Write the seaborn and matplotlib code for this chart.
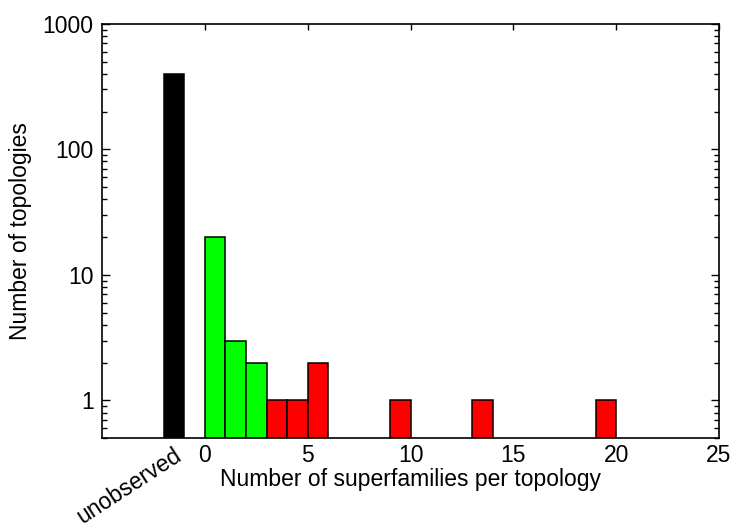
import matplotlib
matplotlib.use("Agg")
import matplotlib.pyplot as plt
import matplotlib.ticker as mticker
import matplotlib.transforms as mtrans
import seaborn as sns
import pandas as pd

# counts per topology
unobserved_count = 400
superfamilies = [0, 1, 2, 3, 4, 5, 9, 13, 19]
topology_counts = [20, 3, 2, 1, 1, 2, 1, 1, 1]
groups = ["low", "low", "low", "high", "high", "high", "high", "high", "high"]
unobserved_pos = -2

palette = {"unobserved": "#000000", "low": "#00ff00", "high": "#ff0000"}

df = pd.DataFrame({
    "x": [unobserved_pos + 0.5] + [s + 0.5 for s in superfamilies],
    "count": [unobserved_count] + topology_counts,
    "group": ["unobserved"] + groups,
})

sns.set_style("ticks")
plt.rcParams["font.family"] = ["Liberation Sans", "DejaVu Sans"]
plt.rcParams["text.color"] = "black"
plt.rcParams["axes.labelcolor"] = "black"
plt.rcParams["xtick.color"] = "black"
plt.rcParams["ytick.color"] = "black"

fig = plt.figure(figsize=(7.39, 5.28), dpi=100)
ax = fig.add_axes([0.138, 0.170, 0.835, 0.785])

sns.barplot(data=df, x="x", y="count", hue="group", palette=palette,
            native_scale=True, dodge=False, width=1.0, legend=False,
            saturation=1, edgecolor="black", linewidth=1.1, ax=ax,
            errorbar=None)

ax.set_yscale("log")
ax.set_ylim(0.5, 1000)
ax.set_xlim(-5, 25)

ax.set_xticks([0, 5, 10, 15, 20, 25])
ax.set_xticklabels(["0", "5", "10", "15", "20", "25"])
ax.set_yticks([1, 10, 100, 1000])
ax.yaxis.set_major_formatter(mticker.FixedFormatter(["1", "10", "100", "1000"]))
ax.yaxis.set_minor_locator(mticker.LogLocator(base=10, subs=range(2, 10)))
ax.yaxis.set_minor_formatter(mticker.NullFormatter())

ax.tick_params(axis="x", which="both", bottom=False, top=True, direction="in",
               length=4, width=1, labelsize=16.5, pad=4)
ax.tick_params(axis="y", which="major", left=True, right=True, direction="in",
               length=6, width=1, labelsize=16.5, pad=6)
ax.tick_params(axis="y", which="minor", left=True, right=True, direction="in",
               length=3.5, width=1)

for sp in ax.spines.values():
    sp.set_visible(True)
    sp.set_linewidth(1.2)
    sp.set_color("black")

trans = mtrans.blended_transform_factory(ax.transData, ax.transAxes)
ax.text(unobserved_pos + 0.45, -0.012, "unobserved", transform=trans, rotation=33,
        rotation_mode="anchor", ha="right", va="top", fontsize=16.5)

ax.set_xlabel("Number of superfamilies per topology", fontsize=16.5, labelpad=1)
ax.set_ylabel("Number of topologies", fontsize=16.5, labelpad=8)

fig.savefig("out.png", dpi=100)
